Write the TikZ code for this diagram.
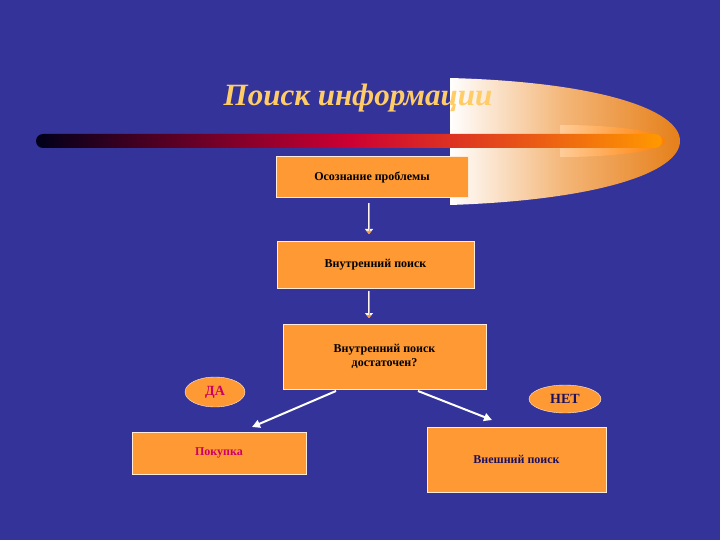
\documentclass[tikz,border=0pt]{standalone}
\usepackage{fontspec}
\setmainfont{Liberation Serif}
\usetikzlibrary{shapes.geometric,arrows.meta}
\definecolor{bg}{HTML}{333399}
\definecolor{box}{HTML}{FF9933}
\definecolor{gold}{HTML}{FFCC66}
\definecolor{crim}{HTML}{CC0066}
\definecolor{navy}{HTML}{1A1060}
\tikzset{
 bx/.style={draw=white!80!box,line width=1pt,fill=box,font=\bfseries\fontsize{12}{14}\selectfont,align=center,inner sep=0pt},
 lbl/.style={ellipse,draw=white!80!box,fill=box,inner sep=0pt,font=\bfseries\fontsize{14}{16}\selectfont},
 varr/.style={draw=white!90!box,line width=2.2pt,-{Triangle[length=5pt,width=8pt]},postaction={draw=box,line width=0.8pt,-{Triangle[length=3pt,width=5pt]}}},
 darr/.style={draw=white,line width=2pt,-{Triangle[length=8pt,width=8pt]}}
}
\begin{document}
\begin{tikzpicture}[x=1pt,y=-1pt]
\useasboundingbox (0,0) rectangle (720,540);
\fill[bg] (0,0) rectangle (720,540);
% swoosh
\shade[left color=white,right color=orange!60!brown,middle color=white!70!brown!60!orange] (450,78) .. controls (600,82) and (680,110) .. (680,141) .. controls (680,172) and (600,200) .. (450,205) -- cycle;
\shade[left color=white!60!orange,right color=orange] (560,125) .. controls (620,125) and (665,132) .. (665,141) .. controls (665,150) and (620,157) .. (560,157) -- cycle;
% bar
\shade[left color=black!90!blue,right color=orange!80!yellow,middle color=purple!80!red,rounded corners=7pt] (36,134) rectangle (662,148);
\node[font=\bfseries\itshape\fontsize{31}{34}\selectfont,text=gold,anchor=center] (title) at (358,98) {Поиск информации};
\node[bx,minimum width=192,minimum height=41] (a) at (372,177.5) {Осознание проблемы};
\node[bx,minimum width=197,minimum height=47] (b) at (375.5,264.5) {Внутренний поиск};
\node[bx,minimum width=203,minimum height=65] (c) at (384.5,356.5) {Внутренний поиск\\достаточен?};
\node[bx,minimum width=174,minimum height=42,text=crim] (d) at (219,453) {Покупка};
\node[bx,minimum width=179,minimum height=65,text=navy] (e) at (516.5,459.5) {Внешний поиск};
\node[lbl,minimum width=60,minimum height=30,text=crim] (da) at (215,392) {ДА};
\node[lbl,minimum width=72,minimum height=28,text=navy] (net) at (565,399) {НЕТ};
\draw[varr] (a.south -| 369,0) ++(0,5) -- (369,234);
\draw[varr] (369,291) -- (369,318);
\coordinate (c1) at (336,391);
\coordinate (c2) at (418,391);
\coordinate (d1) at (252,427);
\coordinate (e1) at (492,420);
\draw[darr] (c1) -- (d1);
\draw[darr] (c2) -- (e1);
\end{tikzpicture}
\end{document}
